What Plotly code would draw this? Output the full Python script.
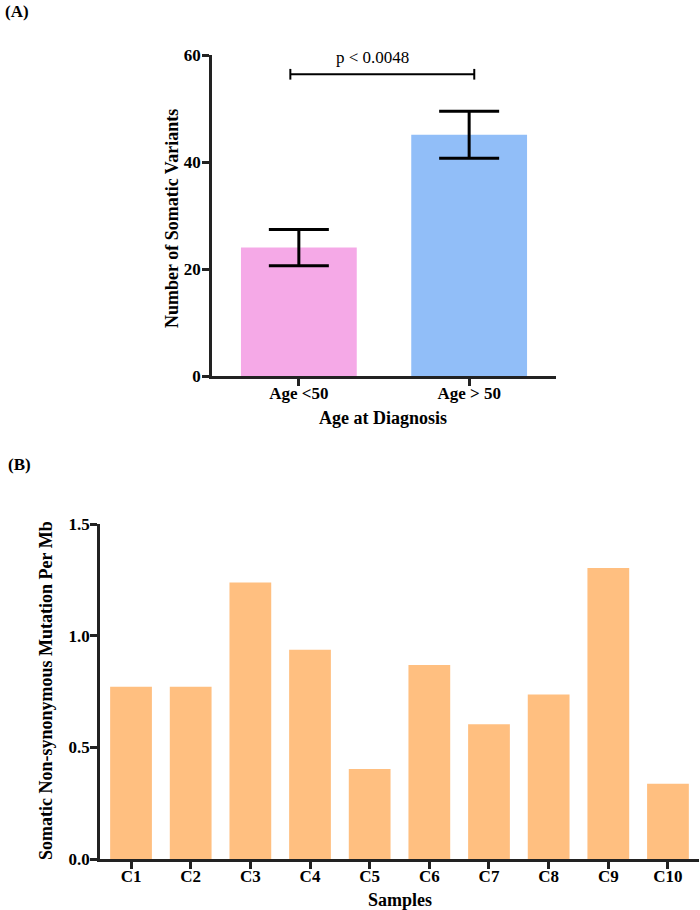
import plotly.graph_objects as go

# ---- Data ----
age_groups = ["Age <50", "Age > 50"]
variant_means = [24.0, 45.1]
variant_sem = [3.4, 4.4]
p_text = "p < 0.0048"
bracket_y = 56.4

samples = ["C1", "C2", "C3", "C4", "C5", "C6", "C7", "C8", "C9", "C10"]
mut_per_mb = [0.771, 0.771, 1.238, 0.937, 0.403, 0.869, 0.603, 0.737, 1.303, 0.337]

W, H = 700, 910
def px_x(p):
    return p / W
def px_y(p):
    return 1 - p / H

FONT = "Liberation Serif"
AX = "#222222"

fig = go.Figure()

fig.add_trace(go.Bar(
    x=age_groups, y=variant_means, width=0.68,
    marker=dict(color=["#F5A9E7", "#91BEF8"], line=dict(width=0)),
    error_y=dict(type="data", array=variant_sem, color="black", thickness=3, width=30),
    xaxis="x", yaxis="y", showlegend=False,
))

fig.add_trace(go.Bar(
    x=samples, y=mut_per_mb, width=0.70,
    marker=dict(color="#FFBF80", line=dict(width=0)),
    xaxis="x2", yaxis="y2", showlegend=False,
))

axis_common = dict(
    showline=True, linecolor=AX, linewidth=2.5, ticks="outside", ticklen=7,
    tickwidth=2.5, tickcolor=AX, showgrid=False, zeroline=False, automargin=False,
    tickfont=dict(family=FONT, size=17, color="black", weight="bold"),
)

fig.update_layout(
    width=W, height=H, margin=dict(l=0, r=0, t=0, b=0, autoexpand=False),
    paper_bgcolor="white", plot_bgcolor="white",
    xaxis=dict(domain=[px_x(212), px_x(556)], range=[-0.51, 1.51], anchor="y",
               ticklabelstandoff=-7, **axis_common),
    yaxis=dict(domain=[px_y(376), px_y(55)], range=[0, 60], tickvals=[0, 20, 40, 60],
               anchor="x", ticklabelstandoff=-2, **axis_common),
    xaxis2=dict(domain=[px_x(100), px_x(699)], range=[-0.52, 9.52], anchor="y2",
                ticklabelstandoff=-7, **axis_common),
    yaxis2=dict(domain=[px_y(859), px_y(524)], range=[0, 1.5], tickvals=[0, 0.5, 1.0, 1.5],
                tickformat=".1f", anchor="x2", ticklabelstandoff=-3, **axis_common),
    bargap=0.3,
)

# significance bracket
cap = 1.0
fig.add_shape(type="line", xref="x", yref="y", x0=-0.05, x1=1.03, y0=bracket_y, y1=bracket_y,
              line=dict(color="black", width=2))
for xv in (-0.05, 1.03):
    fig.add_shape(type="line", xref="x", yref="y", x0=xv, x1=xv, y0=bracket_y - cap, y1=bracket_y + cap,
                  line=dict(color="black", width=2))
fig.add_annotation(xref="x", yref="y", x=0.43, y=59.6, text=p_text, showarrow=False,
                   font=dict(family=FONT, size=17, color="black"), yanchor="middle")

title_font = dict(family=FONT, size=18, color="black", weight="bold")
# Panel labels
fig.add_annotation(xref="paper", yref="paper", x=px_x(3), y=px_y(12), text="(A)", showarrow=False,
                   xanchor="left", yanchor="middle", font=dict(family=FONT, size=17, color="black", weight="bold"))
fig.add_annotation(xref="paper", yref="paper", x=px_x(6), y=px_y(465), text="(B)", showarrow=False,
                   xanchor="left", yanchor="middle", font=dict(family=FONT, size=17, color="black", weight="bold"))
# Axis titles
fig.add_annotation(xref="paper", yref="paper", x=px_x(172), y=px_y(219), text="Number of Somatic Variants",
                   textangle=-90, showarrow=False, xanchor="center", yanchor="middle", font=title_font)
fig.add_annotation(xref="paper", yref="paper", x=px_x(383), y=px_y(418), text="Age at Diagnosis",
                   showarrow=False, xanchor="center", yanchor="middle", font=title_font)
fig.add_annotation(xref="paper", yref="paper", x=px_x(46), y=px_y(691),
                   text="Somatic Non-synonymous Mutation Per Mb",
                   textangle=-90, showarrow=False, xanchor="center", yanchor="middle", font=title_font)
fig.add_annotation(xref="paper", yref="paper", x=px_x(400), y=px_y(900), text="Samples",
                   showarrow=False, xanchor="center", yanchor="middle", font=title_font)

fig.write_html(
    "out.html",
    config={"displayModeBar": False},
    post_script="document.body.style.margin='0';document.body.style.overflow='hidden';",
)
